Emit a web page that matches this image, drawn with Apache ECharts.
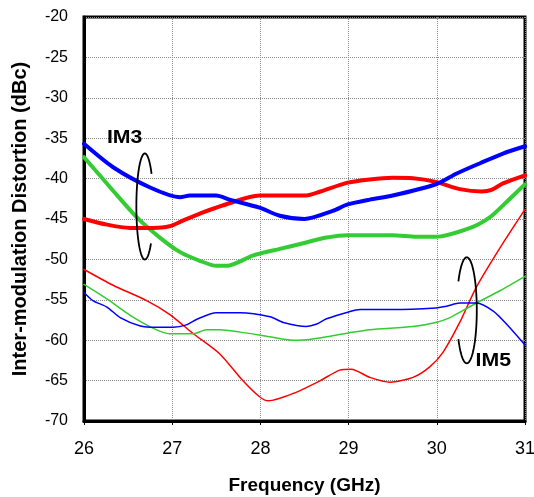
<!DOCTYPE html>
<html><head><meta charset="utf-8">
<script src="https://cdn.jsdelivr.net/npm/echarts@6/dist/echarts.min.js"></script>
<style>html,body{margin:0;padding:0;background:#fff}#c{width:534px;height:497px}</style>
</head><body><div id="c"></div>
<script>
// ---- Data ----
const xAxisTicks = [26, 27, 28, 29, 30, 31];
const yAxisTicks = [-70, -65, -60, -55, -50, -45, -40, -35, -30, -25, -20];

const im3BlueX = [26, 26.33, 26.75, 27.09, 27.2, 27.5, 27.65, 27.99, 28.22, 28.5, 28.82, 28.99, 29.24, 29.5, 29.99, 30.22, 30.49, 30.75, 31];
const im3BlueY = [-35.7, -38.6, -41.1, -42.3, -42.1, -42.1, -42.6, -43.6, -44.6, -45.0, -44.0, -43.2, -42.6, -42.1, -40.7, -39.4, -38.1, -36.9, -36.0];

const im3RedX = [26, 26.26, 26.52, 26.78, 26.97, 27.12, 27.32, 27.58, 27.99, 28.52, 28.68, 28.99, 29.24, 29.5, 29.73, 29.99, 30.26, 30.51, 30.62, 30.75, 31];
const im3RedY = [-45.0, -45.7, -46.1, -46.1, -45.9, -45.2, -44.3, -43.3, -42.1, -42.1, -41.6, -40.5, -40.1, -39.9, -39.95, -40.4, -41.3, -41.6, -41.4, -40.6, -39.6];

const im3GreenX = [26, 26.33, 26.6, 26.86, 27.09, 27.32, 27.5, 27.62, 27.92, 28.22, 28.45, 28.75, 28.99, 29.5, 29.77, 29.99, 30.38, 30.6, 30.79, 31];
const im3GreenY = [-37.35, -41.5, -44.8, -47.3, -49.1, -50.2, -50.8, -50.8, -49.5, -48.7, -48.1, -47.3, -47.0, -47.0, -47.2, -47.2, -46.1, -44.8, -42.9, -40.7];

const im5RedX = [26, 26.33, 26.71, 26.97, 27.24, 27.54, 27.8, 27.99, 28.09, 28.37, 28.68, 28.9, 29.03, 29.24, 29.47, 29.73, 29.92, 30.07, 30.26, 30.45, 30.72, 31];
const im5RedY = [-51.25, -53.2, -55.1, -56.8, -59.2, -61.7, -65.0, -67.0, -67.5, -66.6, -65.0, -63.7, -63.6, -64.6, -65.2, -64.6, -63.3, -61.5, -57.8, -53.4, -48.5, -43.8];

const im5BlueX = [26, 26.1, 26.26, 26.41, 26.63, 26.82, 27.01, 27.16, 27.28, 27.5, 27.77, 28.11, 28.26, 28.52, 28.64, 28.75, 29.0, 29.13, 29.5, 29.99, 30.11, 30.26, 30.45, 30.64, 30.79, 31];
const im5BlueY = [-54.1, -55.1, -55.9, -57.2, -58.2, -58.4, -58.4, -58.1, -57.4, -56.6, -56.6, -57.1, -57.8, -58.3, -58.0, -57.35, -56.5, -56.2, -56.2, -56.0, -55.8, -55.4, -55.4, -56.4, -58.0, -60.6];

const im5GreenX = [26, 26.26, 26.52, 26.78, 26.97, 27.24, 27.39, 27.54, 27.77, 28.07, 28.37, 28.52, 28.79, 29.0, 29.24, 29.73, 29.99, 30.15, 30.3, 30.45, 30.72, 31];
const im5GreenY = [-53.1, -54.9, -56.9, -58.5, -59.2, -59.2, -58.7, -58.7, -59.0, -59.5, -60.0, -59.95, -59.5, -59.1, -58.7, -58.3, -57.8, -57.2, -56.3, -55.4, -53.85, -52.1];

const xTitle = 'Frequency (GHz)';
const yTitle = 'Inter-modulation Distortion (dBc)';
const labelIM3 = 'IM3';
const labelIM5 = 'IM5';

// ---- Chart ----
const FONT = '"Liberation Sans", Arial, sans-serif';
const zip = (xs, ys) => xs.map((x, i) => [x, ys[i]]);
const chart = echarts.init(document.getElementById('c'), null, {renderer: 'canvas'});

function mkSeries(name, xs, ys, color, width, z) {
  return {
    name, type: 'line', data: zip(xs, ys), showSymbol: false, symbol: 'none',
    smooth: 0.25, z,
    lineStyle: {color, width, cap: 'round', join: 'round'},
    animation: false
  };
}

chart.setOption({
  animation: false,
  backgroundColor: '#ffffff',
  grid: {left: 84, right: 9, top: 17, bottom: 76, containLabel: false, outerBoundsMode: 'none',
         show: true, borderColor: '#000', borderWidth: 3, backgroundColor: 'transparent'},
  xAxis: {
    type: 'value', min: xAxisTicks[0], max: xAxisTicks[xAxisTicks.length - 1], interval: 1,
    name: xTitle, nameLocation: 'middle', nameGap: 55,
    nameTextStyle: {fontFamily: FONT, fontSize: 19, fontWeight: 'bold', color: '#000'},
    axisLine: {show: true, lineStyle: {color: '#000', width: 3}},
    axisTick: {show: true, length: 4, lineStyle: {color: '#000', width: 1}},
    axisLabel: {fontFamily: FONT, fontSize: 18, color: '#000', margin: 19},
    splitLine: {show: true, lineStyle: {color: '#8a8a8a', width: 1, type: [1, 1]}}
  },
  yAxis: {
    type: 'value', min: yAxisTicks[0], max: yAxisTicks[yAxisTicks.length - 1], interval: 5,
    name: yTitle, nameLocation: 'middle', nameGap: 54, nameRotate: 90,
    nameTextStyle: {fontFamily: FONT, fontSize: 20, fontWeight: 'bold', color: '#000'},
    axisLine: {show: true, lineStyle: {color: '#000', width: 3}},
    axisTick: {show: false},
    axisLabel: {fontFamily: FONT, fontSize: 16, color: '#000', margin: 16},
    splitLine: {show: true, lineStyle: {color: '#8a8a8a', width: 1, type: [1, 1]}}
  },
  series: [
    mkSeries('IM5 red', im5RedX, im5RedY, '#ff0000', 1.5, 2),
    mkSeries('IM5 green', im5GreenX, im5GreenY, '#33cc33', 1.5, 2),
    mkSeries('IM5 blue', im5BlueX, im5BlueY, '#0000ff', 1.5, 2),
    mkSeries('IM3 green', im3GreenX, im3GreenY, '#33cc33', 4, 3),
    mkSeries('IM3 red', im3RedX, im3RedY, '#ff0000', 4, 3),
    mkSeries('IM3 blue', im3BlueX, im3BlueY, '#0000ff', 4, 3)
  ]
});

// Annotation ellipses (open arcs) anchored in data coordinates
function ellipseArc(cxD, cyD, rx, ry, a0, a1) {
  const c = chart.convertToPixel({gridIndex: 0}, [cxD, cyD]);
  const pts = [];
  const n = 72;
  for (let i = 0; i <= n; i++) {
    const t = (a0 + (a1 - a0) * i / n) * Math.PI / 180;
    pts.push([c[0] + rx * Math.cos(t), c[1] + ry * Math.sin(t)]);
  }
  return {type: 'polyline', shape: {points: pts}, style: {stroke: '#000', lineWidth: 1.8, fill: null}, z: 10, silent: true};
}
const im3Pos = chart.convertToPixel({gridIndex: 0}, [26.26, -35.0]);
const im5Pos = chart.convertToPixel({gridIndex: 0}, [30.44, -62.6]);

chart.setOption({
  graphic: [
    ellipseArc(26.69, -43.45, 8.5, 53, 44, 322),
    ellipseArc(30.34, -56.3, 10, 53, 213, 507),
    {type: 'text', x: im3Pos[0], y: im3Pos[1], scaleX: 1.12, z: 10,
     style: {text: labelIM3, font: 'bold 19px ' + FONT, fill: '#000', textVerticalAlign: 'middle', verticalAlign: 'middle'}},
    {type: 'text', x: im5Pos[0], y: im5Pos[1], scaleX: 1.12, z: 10,
     style: {text: labelIM5, font: 'bold 19px ' + FONT, fill: '#000', textVerticalAlign: 'middle', verticalAlign: 'middle'}}
  ]
});
</script>
</body></html>
